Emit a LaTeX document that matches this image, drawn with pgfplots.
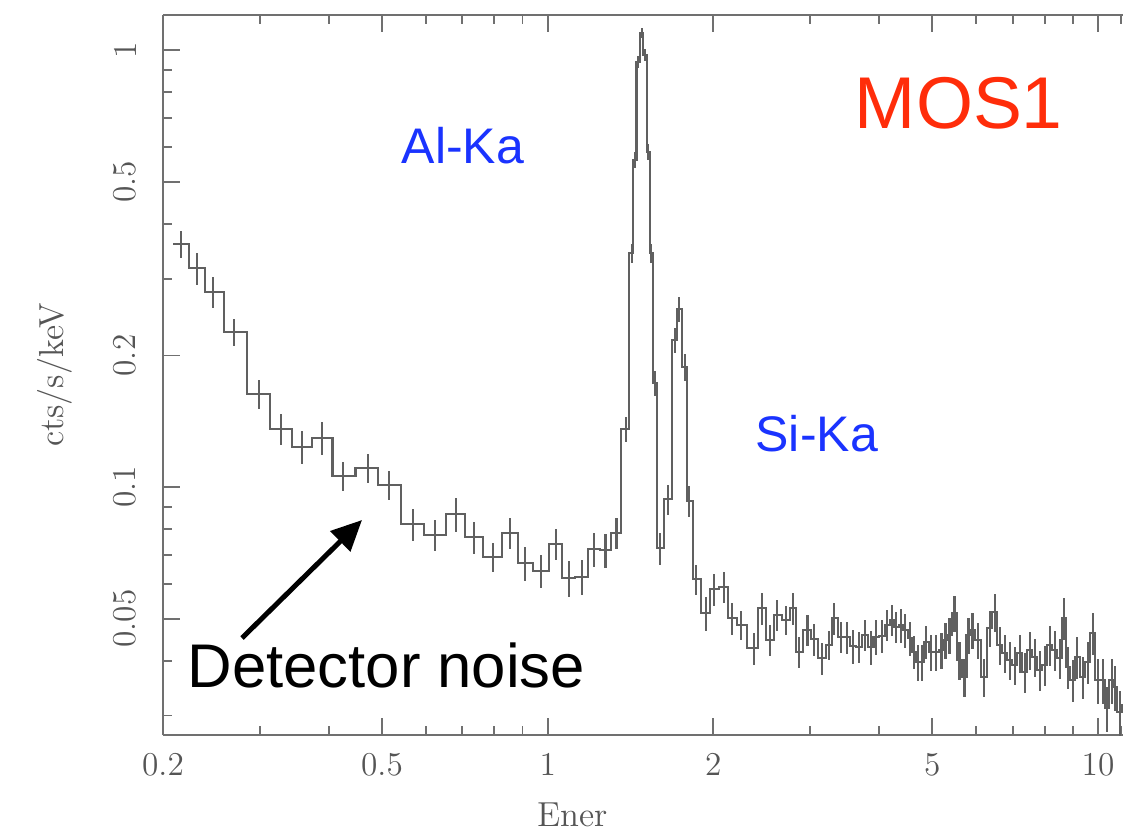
\documentclass[border=0pt]{standalone}
\usepackage{fontspec}
\usepackage{pgfplots}
\pgfplotsset{compat=1.18}
\usepackage{pgfplotstable}
\usetikzlibrary{arrows.meta}
\newfontfamily\sans{Liberation Sans}
\definecolor{axgray}{HTML}{707070}
\definecolor{txtgray}{HTML}{555555}
\definecolor{datgray}{HTML}{606060}
\definecolor{mosred}{HTML}{FF2D0A}
\definecolor{lineblue}{HTML}{1A33FF}

\pgfplotstableread{
x y r
0.2086 0.3598 0
0.2159 0.3598 0.071
0.2308 0.3166 0.082
0.2465 0.2799 0.082
0.2693 0.2259 0.071
0.2990 0.1633 0.077
0.3275 0.1358 0.082
0.3581 0.1237 0.088
0.3883 0.1297 0.088
0.4253 0.1061 0.077
0.4708 0.1104 0.077
0.5150 0.1011 0.077
0.5685 0.08215 0.082
0.6246 0.07766 0.082
0.6821 0.08674 0.088
0.7334 0.07672 0.082
0.7951 0.06914 0.077
0.8555 0.07861 0.082
0.9108 0.06689 0.088
0.9739 0.06433 0.088
1.0354 0.07406 0.082
1.0920 0.06181 0.094
1.1547 0.06233 0.094
1.2125 0.07202 0.088
1.2736 0.07175 0.088
1.3337 0.07861 0.082
1.3885 0.1355 0.065
1.4203 0.3426 0.049
1.4401 0.5602 0.043
1.4602 0.9387 0.032
1.4812 1.0937 0.027
1.5018 0.9740 0.032
1.5228 0.5843 0.043
1.5420 0.3426 0.049
1.5642 0.1727 0.065
1.5973 0.07240 0.082
1.6558 0.09372 0.077
1.7030 0.2170 0.065
1.7318 0.2551 0.065
1.7759 0.1885 0.071
1.8059 0.09304 0.082
1.8620 0.06149 0.077
1.9416 0.05141 0.088
2.0054 0.05833 0.082
2.0915 0.05913 0.082
2.1655 0.05007 0.082
2.2431 0.04833 0.077
2.3715 0.04274 0.082
2.4553 0.05277 0.082
2.5327 0.04466 0.082
2.6148 0.05095 0.082
2.7084 0.04963 0.077
2.7961 0.05277 0.082
2.8637 0.04199 0.082
2.9651 0.04707 0.082
3.0496 0.04482 0.082
3.1497 0.04055 0.082
3.2477 0.04349 0.077
3.3165 0.05007 0.082
3.4110 0.04544 0.082
3.4920 0.04530 0.082
3.5915 0.04326 0.088
3.6831 0.04310 0.082
3.7767 0.04585 0.082
3.8680 0.04297 0.088
3.9500 0.04544 0.094
4.0504 0.04561 0.088
4.1414 0.04833 0.082
4.2291 0.04963 0.082
4.3006 0.04782 0.082
4.3917 0.04833 0.088
4.4660 0.04707 0.088
4.5606 0.04513 0.088
4.6377 0.04193 0.088
4.7162 0.03977 0.094
4.7960 0.03977 0.094
4.8772 0.04419 0.088
4.9804 0.04193 0.094
5.0859 0.04193 0.094
5.1937 0.04236 0.094
5.2815 0.04466 0.094
5.3709 0.04585 0.094
5.4846 0.05149 0.094
5.6008 0.04019 0.099
5.7194 0.03674 0.099
5.8162 0.04585 0.094
5.9146 0.04707 0.094
6.0399 0.04466 0.094
6.1935 0.03674 0.099
6.3510 0.04757 0.094
6.4855 0.05176 0.099
6.6228 0.04349 0.099
6.7631 0.04170 0.099
6.9064 0.04019 0.099
7.0527 0.03915 0.099
7.2021 0.04170 0.099
7.3546 0.03773 0.105
7.5104 0.04236 0.099
7.6695 0.04083 0.099
7.8320 0.03813 0.105
7.9978 0.03915 0.105
8.1673 0.04349 0.105
8.3403 0.04236 0.105
8.5169 0.04062 0.105
8.6609 0.05015 0.111
8.8073 0.03874 0.111
8.9939 0.03617 0.111
9.1460 0.04083 0.111
9.3788 0.03674 0.111
9.5775 0.03977 0.111
9.7803 0.04634 0.111
9.9874 0.03617 0.117
10.199 0.03617 0.117
10.371 0.03121 0.117
10.591 0.03617 0.117
10.724 0.03486 0.117
10.951 0.03056 0.117
11.18 0.03171 0.117
}\spec

\begin{document}
\begin{tikzpicture}
\begin{axis}[
  name=ax,
  scale only axis,
  width=345.6pt, height=259.2pt,
  xmode=log, ymode=log,
  xmin=0.2, xmax=11.1, ymin=0.02707, ymax=1.203,
  axis x line*=box, axis y line*=left,
  axis line style={axgray, line width=0.7pt, -},
  xtick={0.2,0.5,1,2,5,10}, xticklabels={0.2,0.5,1,2,5,10},
  minor xtick={0.3,0.4,0.6,0.7,0.8,0.9,3,4,6,7,8,9,11},
  ytick={0.05,0.1,0.2,0.5,1}, yticklabels={0.05,0.1,0.2,0.5,1},
  minor ytick={0.03,0.04,0.06,0.07,0.08,0.09,0.3,0.4,0.6,0.7,0.8,0.9},
  tick align=inside,
  major tick length=6.1pt, minor tick length=3.2pt,
  tick style={axgray, line width=0.7pt},
  ticklabel style={font=\fontsize{12}{14}\selectfont, text=txtgray},
  xticklabel style={yshift=-3pt},
  yticklabel style={rotate=90, anchor=south, yshift=6pt},
  xlabel={Ener}, ylabel={cts/s/keV},
  label style={font=\fontsize{12.5}{14}\selectfont, text=txtgray},
  xlabel style={at={(axis description cs:0.427,-0.111)}, anchor=center},
  ylabel style={at={(axis description cs:-0.1125,0.5)}, anchor=center},
]
\addplot[const plot mark mid, no marks, datgray, line width=0.75pt,
  error bars/.cd, y dir=both, y explicit relative, error mark=none,
  error bar style={datgray, line width=0.75pt}]
  table[x=x, y=y, y error=r] {\spec};
\node[font=\sans\fontsize{26.4}{30}\selectfont, text=mosred, anchor=center, inner sep=0pt] at (rel axis cs:0.829,0.877) {MOS1};
\node[font=\sans\fontsize{18}{20}\selectfont, text=lineblue, anchor=center, inner sep=0pt] at (rel axis cs:0.3125,0.818) {Al-Ka};
\node[font=\sans\fontsize{18}{20}\selectfont, text=lineblue, anchor=center, inner sep=0pt] at (rel axis cs:0.681,0.4188) {Si-Ka};
\node[font=\sans\fontsize{22.2}{26}\selectfont, text=black, anchor=base west, inner sep=0pt] at (rel axis cs:0.025,0.0653) {Detector noise};
\draw[line width=1.8pt, -{Triangle[length=11pt, width=10pt]}] (rel axis cs:0.0823,0.1347) -- (rel axis cs:0.2073,0.2986);
\end{axis}
\pgfresetboundingbox
\path[use as bounding box] ([shift={(-58.68pt,-35.28pt)}]ax.south west) rectangle ([shift={(0pt,5.4pt)}]ax.north east);
\end{tikzpicture}
\end{document}
